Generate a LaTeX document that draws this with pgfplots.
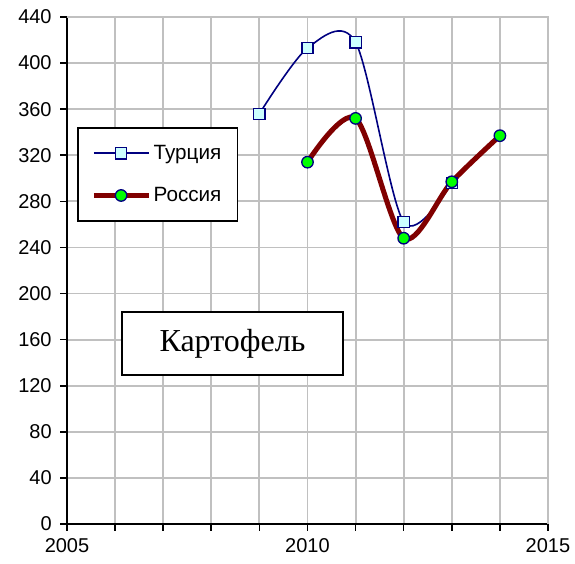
\documentclass[border=0pt]{standalone}
\usepackage{pgfplots}
\pgfplotsset{compat=1.18}
\usepackage{fontspec}
\setmainfont{Liberation Sans}
\newfontfamily\serifru{Liberation Serif}
\definecolor{navy}{HTML}{000080}
\definecolor{maroon}{HTML}{800000}
\definecolor{lcyan}{HTML}{CCFFFF}
\definecolor{gridg}{HTML}{C0C0C0}
\begin{document}
\begin{tikzpicture}
\begin{axis}[
  name=main,
  scale only axis,
  width=360.75pt, height=380.25pt,
  xmin=2005, xmax=2015, ymin=0, ymax=440,
  xtick={2005,...,2015},
  xticklabels={2005,,,,,2010,,,,,2015},
  ytick={0,40,...,440},
  grid=major,
  major grid style={gridg, line width=1.4pt},
  axis x line*=bottom, axis y line*=left,
  axis line style={black, line width=1.2pt, -},
  tick style={black, line width=1.2pt},
  tick align=outside,
  major tick length=5pt,
  tick label style={font=\fontsize{15}{17}\selectfont},
  /pgf/number format/assume math mode=true,
  /pgf/number format/1000 sep={},
  yticklabel style={xshift=-3pt},
  xticklabel style={yshift=-2pt},
  legend style={at={(0.021,0.783)}, anchor=north west, draw=black, line width=1.2pt,
    font=\fontsize{15.5}{17}\selectfont, row sep=15.5pt, inner xsep=10pt, inner ysep=11pt},
  legend cell align=left,
  legend image code/.code={\draw[mark repeat=2,mark phase=2,#1] plot coordinates {(0pt,0pt) (20.5pt,0pt) (41pt,0pt)};},
  clip=false,
]
\draw[gridg, line width=1.4pt] (rel axis cs:0,1) -- (rel axis cs:1,1) -- (rel axis cs:1,0);
\addplot[navy, line width=1.2pt, smooth, tension=0.5, mark=square*, mark size=4.2pt,
  mark options={fill=lcyan, draw=navy, line width=1pt}]
  coordinates {(2009,356) (2010,413) (2011,418) (2012,262) (2013,296)};
\addlegendentry{Турция}
\addplot[maroon, line width=3.8pt, smooth, tension=0.5, mark=*, mark size=4.3pt,
  mark options={fill=green, draw=navy, line width=1pt}]
  coordinates {(2010,314) (2011,352) (2012,248) (2013,297) (2014,337)};
\addlegendentry{Россия}
\node[draw=black, line width=1.2pt, fill=white, minimum width=166pt, minimum height=47pt,
  font=\serifru\fontsize{24}{26}\selectfont] at (axis cs:2008.44,156.7) {Картофель};
\end{axis}
\pgfresetboundingbox
\path[use as bounding box] ([xshift=-50.25pt,yshift=-30pt]main.south west) rectangle ([xshift=20.25pt,yshift=12.75pt]main.north east);
\end{tikzpicture}
\end{document}
